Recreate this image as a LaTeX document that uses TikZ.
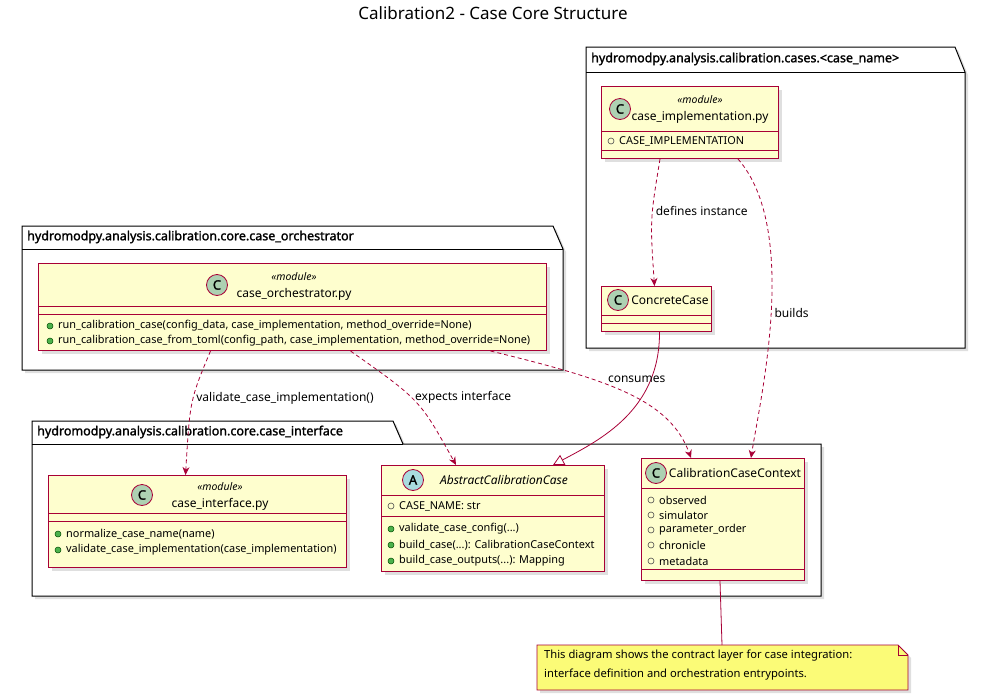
\documentclass[tikz,border=0pt]{standalone}
\usepackage{fontspec}
\setmainfont{Noto Sans}[AutoFakeBold=1.6]
\usetikzlibrary{arrows.meta,shadows,shapes.geometric}
\definecolor{umlred}{HTML}{A80036}
\definecolor{umlfill}{HTML}{FEFECE}
\definecolor{circC}{HTML}{ADD1B2}
\definecolor{circA}{HTML}{A9DCDF}
\definecolor{notefill}{HTML}{FBFB77}
\tikzset{
  cls/.style={draw=umlred, fill=umlfill, line width=1pt, anchor=north west, inner sep=0pt,
    drop shadow={shadow xshift=3pt, shadow yshift=-3pt, opacity=0.25}},
  pkg/.style={draw=black, fill=white, line width=1pt,
    drop shadow={shadow xshift=3pt, shadow yshift=-3pt, opacity=0.25}},
  sep/.style={draw=umlred, line width=1pt},
  icon/.style={circle, draw=umlred, line width=0.8pt, minimum size=21pt, inner sep=0pt, font=\bfseries\fontsize{13}{13}\selectfont},
  mem/.style={anchor=west, inner sep=0pt, font=\fontsize{10.9}{13}\selectfont},
  pub/.style={circle, draw=black!70, line width=0.6pt, minimum size=6pt, inner sep=0pt},
  pubm/.style={circle, fill=green!40!gray, draw=green!30!black, line width=0.5pt, minimum size=6pt, inner sep=0pt},
  dep/.style={draw=umlred, line width=0.8pt, dash pattern=on 4pt off 3pt, -{Stealth[length=8pt,width=7pt]}},
  inh/.style={draw=umlred, line width=0.8pt, -{Triangle[open,length=11pt,width=11pt]}},
  lbl/.style={font=\fontsize{12}{14}\selectfont, inner sep=1pt},
  ptitle/.style={font=\bfseries\fontsize{12.5}{14}\selectfont, anchor=west, inner sep=0pt},
  head/.style={font=\fontsize{12}{14}\selectfont},
  stereo/.style={font=\itshape\fontsize{10.5}{12}\selectfont},
}
\newcommand{\attr}[4]{\node[#1] at (#2,#3) {}; \node[mem] at (#2+8,#3) {#4};}
\begin{document}
\begin{tikzpicture}[x=1pt,y=-1pt]
\useasboundingbox (0,0) rectangle (986,699);
\node[font=\fontsize{17}{19}\selectfont] (title) at (493,13) {Calibration2 - Case Core Structure};

% packages
\draw[pkg] (586,47) -- (955,47) -- (965,72) -- (965,348) -- (586,348) -- cycle;
\draw (586,72) -- (965,72);
\node[ptitle] (pcases) at (591,59) {hydromodpy.analysis.calibration.cases.<case\_name>};

\draw[pkg] (22,226) -- (553,226) -- (563,249) -- (563,370) -- (22,370) -- cycle;
\draw (22,249) -- (563,249);
\node[ptitle] (porch) at (27,237) {hydromodpy.analysis.calibration.core.case\_orchestrator};

\draw[pkg] (32,421) -- (393,421) -- (403,444) -- (821,444) -- (821,596) -- (32,596) -- cycle;
\draw (32,444) -- (403,444);
\node[ptitle] (pintf) at (37,432) {hydromodpy.analysis.calibration.core.case\_interface};

% case_implementation.py
\node[cls, minimum width=177pt, minimum height=72pt] (impl) at (601,86) {};
\draw[sep] (601,131) -- (778,131);
\draw[sep] (601,150) -- (778,150);
\node[icon, fill=circC] (implC) at (620,109) {C};
\node[stereo] at (700,100) {«module»};
\node[head] at (700,117) {case\_implementation.py};
\attr{pub}{611}{141}{CASE\_IMPLEMENTATION}

% ConcreteCase
\node[cls, minimum width=110pt, minimum height=45pt] (concrete) at (601,286) {};
\draw[sep] (601,315) -- (711,315);
\draw[sep] (601,323) -- (711,323);
\node[icon, fill=circC] at (618,300) {C};
\node[head] at (670,300) {ConcreteCase};

% case_orchestrator.py
\node[cls, minimum width=508pt, minimum height=87pt] (orch) at (38,263) {};
\draw[sep] (38,306) -- (546,306);
\draw[sep] (38,314) -- (546,314);
\node[icon, fill=circC] at (217,285) {C};
\node[stereo] at (294,277) {«module»};
\node[head] at (294,294) {case\_orchestrator.py};
\attr{pubm}{50}{326}{run\_calibration\_case(config\_data, case\_implementation, method\_override=None)}
\attr{pubm}{50}{341}{run\_calibration\_case\_from\_toml(config\_path, case\_implementation, method\_override=None)}

% case_interface.py
\node[cls, minimum width=298pt, minimum height=92pt] (intf) at (48,475) {};
\draw[sep] (48,513) -- (346,513);
\draw[sep] (48,521) -- (346,521);
\node[icon, fill=circC] at (142,495) {C};
\node[stereo] at (220,487) {«module»};
\node[head] at (220,504) {case\_interface.py};
\attr{pubm}{58}{534}{normalize\_case\_name(name)}
\attr{pubm}{58}{550}{validate\_case\_implementation(case\_implementation)}

% AbstractCalibrationCase
\node[cls, minimum width=223pt, minimum height=106pt] (abstract) at (381,465) {};
\draw[sep] (381,495) -- (604,495);
\draw[sep] (381,516) -- (604,516);
\node[icon, fill=circA] at (413,480) {A};
\node[font=\itshape\fontsize{12}{14}\selectfont] at (504,480) {AbstractCalibrationCase};
\attr{pub}{391}{506}{CASE\_NAME: str}
\attr{pubm}{391}{529}{validate\_case\_config(...)}
\attr{pubm}{391}{545}{build\_case(...): CalibrationCaseContext}
\attr{pubm}{391}{561}{build\_case\_outputs(...): Mapping}

% CalibrationCaseContext
\node[cls, minimum width=163pt, minimum height=122pt] (context) at (641,458) {};
\draw[sep] (641,488) -- (804,488);
\draw[sep] (641,569) -- (804,569);
\node[icon, fill=circC] at (656,473) {C};
\node[head] at (735,473) {CalibrationCaseContext};
\attr{pub}{651}{500}{observed}
\attr{pub}{651}{515}{simulator}
\attr{pub}{651}{530}{parameter\_order}
\attr{pub}{651}{545}{chronicle}
\attr{pub}{651}{561}{metadata}

% note
\draw[draw=umlred, fill=notefill, line width=0.8pt, drop shadow={shadow xshift=3pt, shadow yshift=-3pt, opacity=0.25}]
  (537,645) -- (898,645) -- (908,655) -- (908,690) -- (537,690) -- cycle;
\draw[draw=umlred, line width=0.8pt] (898,645) -- (898,655) -- (908,655);
\coordinate (notetop) at (722,645);
\node[mem, anchor=north west, align=left, font=\fontsize{11.2}{19}\selectfont] (note) at (544,650)
  {This diagram shows the contract layer for case integration:\\interface definition and orchestration entrypoints.};
\draw[draw=umlred, line width=0.8pt] ([xshift=-3pt]context.south) -- (notetop);

% connectors
\draw[dep] ([xshift=-30pt]impl.south) .. controls (650,220) .. ([xshift=-2pt]concrete.north)
  node[lbl, pos=0.4, right=2pt] {defines instance};
\draw[dep] ([xshift=48pt]impl.south) .. controls (800,230) and (760,400) .. ([xshift=28pt]context.north)
  node[lbl, pos=0.5, right=2pt] {builds};
\draw[inh] ([xshift=3pt]concrete.south) .. controls (660,410) and (600,440) .. ([xshift=60pt]abstract.north);
\draw[dep] ([xshift=-82pt]orch.south) .. controls (190,400) .. ([xshift=-12pt]intf.north)
  node[lbl, pos=0.45, right=2pt] {validate\_case\_implementation()};
\draw[dep] ([xshift=58pt]orch.south) .. controls (420,400) .. ([xshift=-37pt]abstract.north)
  node[lbl, pos=0.45, right=2pt] {expects interface};
\draw[dep] ([xshift=198pt]orch.south) .. controls (610,380) and (670,400) .. ([xshift=-32pt]context.north)
  node[lbl, pos=0.4, above right] {consumes};
\end{tikzpicture}
\end{document}
